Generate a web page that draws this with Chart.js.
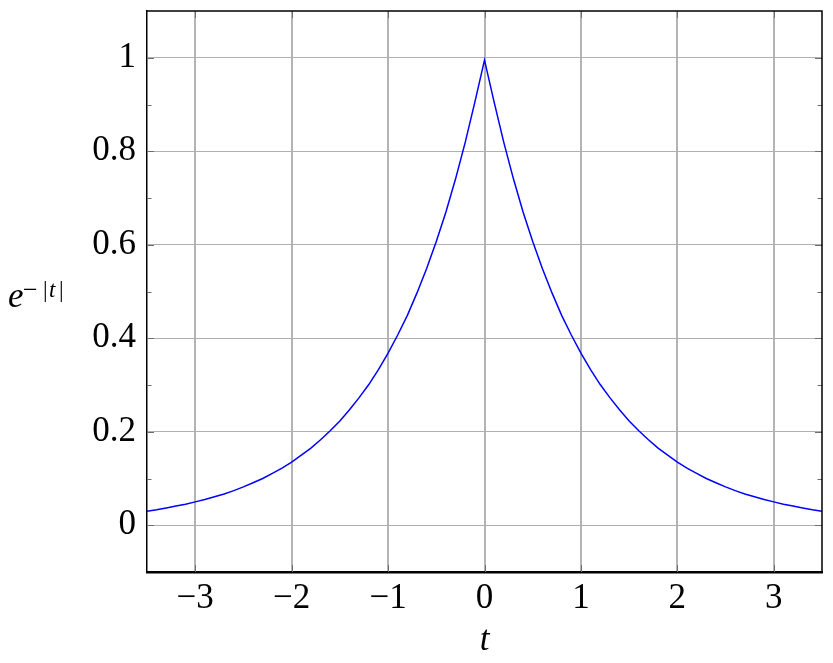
<!DOCTYPE html>
<html>
<head>
<meta charset="utf-8">
<script src="https://cdn.jsdelivr.net/npm/chart.js"></script>
<style>
  html, body { margin: 0; padding: 0; background: #fff; }
  canvas { display: block; }
</style>
</head>
<body>
<canvas id="expChart" width="833" height="663"></canvas>
<script type="text/javascript">

// values (t step 0.1)
const tValues = [
  -3.5, -3.4, -3.3, -3.2, -3.1, -3.0, -2.9, -2.8, -2.7, -2.6,
  -2.5, -2.4, -2.3, -2.2, -2.1, -2.0, -1.9, -1.8, -1.7, -1.6,
  -1.5, -1.4, -1.3, -1.2, -1.1, -1.0, -0.9, -0.8, -0.7, -0.6,
  -0.5, -0.4, -0.3, -0.2, -0.1, 0.0, 0.1, 0.2, 0.3, 0.4,
  0.5, 0.6, 0.7, 0.8, 0.9, 1.0, 1.1, 1.2, 1.3, 1.4,
  1.5, 1.6, 1.7, 1.8, 1.9, 2.0, 2.1, 2.2, 2.3, 2.4,
  2.5, 2.6, 2.7, 2.8, 2.9, 3.0, 3.1, 3.2, 3.3, 3.4, 3.5
];
const yValues = [
  0.030, 0.033, 0.037, 0.041, 0.045, 0.050, 0.055, 0.061, 0.067, 0.074,
  0.082, 0.091, 0.100, 0.111, 0.122, 0.135, 0.150, 0.165, 0.183, 0.202,
  0.223, 0.247, 0.273, 0.301, 0.333, 0.368, 0.407, 0.449, 0.497, 0.549,
  0.607, 0.670, 0.741, 0.819, 0.905, 0.995, 0.905, 0.819, 0.741, 0.670,
  0.607, 0.549, 0.497, 0.449, 0.407, 0.368, 0.333, 0.301, 0.273, 0.247,
  0.223, 0.202, 0.183, 0.165, 0.150, 0.135, 0.122, 0.111, 0.100, 0.091,
  0.082, 0.074, 0.067, 0.061, 0.055, 0.050, 0.045, 0.041, 0.037, 0.033, 0.030
];

const xTicks = [-3, -2, -1, 0, 1, 2, 3];
const xTickLabels = ['\u22123', '\u22122', '\u22121', '0', '1', '2', '3'];
const yTicks = [0, 0.2, 0.4, 0.6, 0.8, 1];
const yTickLabels = ['0', '0.2', '0.4', '0.6', '0.8', '1'];
const yMinorTicks = [0.1, 0.3, 0.5, 0.7, 0.9];

const serif = "'Liberation Serif', 'Times New Roman', serif";

// frame top/right + inward tick marks, pgfplots style
const framePlugin = {
  id: 'frame',
  afterDatasetsDraw(chart) {
    const ctx = chart.ctx;
    const a = chart.chartArea;
    const xs = chart.scales.x, ys = chart.scales.y;
    ctx.save();
    ctx.strokeStyle = '#6e6e6e';
    ctx.lineWidth = 1;
    xTicks.forEach(v => {
      const px = Math.round(xs.getPixelForValue(v)) + 0.5;
      ctx.beginPath();
      ctx.moveTo(px, a.top); ctx.lineTo(px, a.top + 7);
      ctx.moveTo(px, a.bottom); ctx.lineTo(px, a.bottom - 7);
      ctx.stroke();
    });
    yTicks.forEach(v => {
      const py = Math.round(ys.getPixelForValue(v)) + 0.5;
      ctx.beginPath();
      ctx.moveTo(a.left, py); ctx.lineTo(a.left + 7, py);
      ctx.moveTo(a.right, py); ctx.lineTo(a.right - 7, py);
      ctx.stroke();
    });
    yMinorTicks.forEach(v => {
      const py = Math.round(ys.getPixelForValue(v)) + 0.5;
      ctx.beginPath();
      ctx.moveTo(a.left, py); ctx.lineTo(a.left + 4.5, py);
      ctx.moveTo(a.right, py); ctx.lineTo(a.right - 4.5, py);
      ctx.stroke();
    });
    ctx.strokeStyle = '#000';
    ctx.lineWidth = 1.5;
    ctx.beginPath();
    ctx.moveTo(a.left, a.top);
    ctx.lineTo(a.right, a.top);
    ctx.lineTo(a.right, a.bottom);
    ctx.stroke();
    ctx.restore();
  },
  afterDraw(chart) {
    // y axis label: e^{-|t|}
    const ctx = chart.ctx;
    ctx.save();
    ctx.fillStyle = '#000';
    ctx.textBaseline = 'alphabetic';
    ctx.textAlign = 'left';
    ctx.font = 'italic 35px ' + serif;
    ctx.fillText('e', 8, 307);
    ctx.font = '26px ' + serif;
    ctx.fillText('\u2212', 23, 298);
    ctx.font = '23px ' + serif;
    ctx.fillText('|', 43, 297);
    ctx.fillText('|', 59, 297);
    ctx.font = 'italic 23px ' + serif;
    ctx.fillText('t', 49, 297);
    ctx.restore();
  }
};

const ctx = document.getElementById('expChart').getContext('2d');
const myChart = new Chart(ctx, {
  type: 'line',
  data: {
    datasets: [{
      data: tValues.map((t, i) => ({ x: t, y: yValues[i] })),
      borderColor: '#0000ff',
      borderWidth: 1.5,
      pointRadius: 0,
      tension: 0,
      fill: false,
    }],
  },
  options: {
    responsive: false,
    animation: false,
    devicePixelRatio: 1,
    layout: { padding: { top: 11, right: 11, left: 0, bottom: 0 } },
    plugins: { legend: { display: false }, tooltip: { enabled: false } },
    scales: {
      x: {
        type: 'linear',
        min: -3.5,
        max: 3.5,
        afterBuildTicks: s => { s.ticks = xTicks.map(v => ({ value: v })); },
        afterFit: s => { s.height = 91; s.paddingLeft = 0; s.paddingRight = 0; },
        ticks: {
          callback: (v, i) => xTickLabels[i],
          font: { family: serif, size: 35 },
          color: '#000',
          padding: 6,
          maxRotation: 0,
          autoSkip: false,
        },
        grid: { color: '#b4b4b4', lineWidth: 2, drawTicks: false },
        border: { display: true, color: '#000', width: 2.5 },
        title: {
          display: true,
          text: 't',
          color: '#000',
          font: { family: serif, size: 35, style: 'italic' },
          padding: { top: 0, bottom: 1 },
        },
      },
      y: {
        type: 'linear',
        min: -0.1,
        max: 1.1,
        afterBuildTicks: s => { s.ticks = yTicks.map(v => ({ value: v })); },
        afterFit: s => { s.width = 147; s.paddingTop = 0; s.paddingBottom = 0; },
        ticks: {
          callback: (v, i) => yTickLabels[i],
          font: { family: serif, size: 35 },
          color: '#000',
          padding: 11,
          autoSkip: false,
        },
        grid: { color: '#b0b0b0', lineWidth: 1, drawTicks: false },
        border: { display: true, color: '#000', width: 1.5 },
      },
    },
  },
  plugins: [framePlugin],
});
</script>
</body>
</html>
